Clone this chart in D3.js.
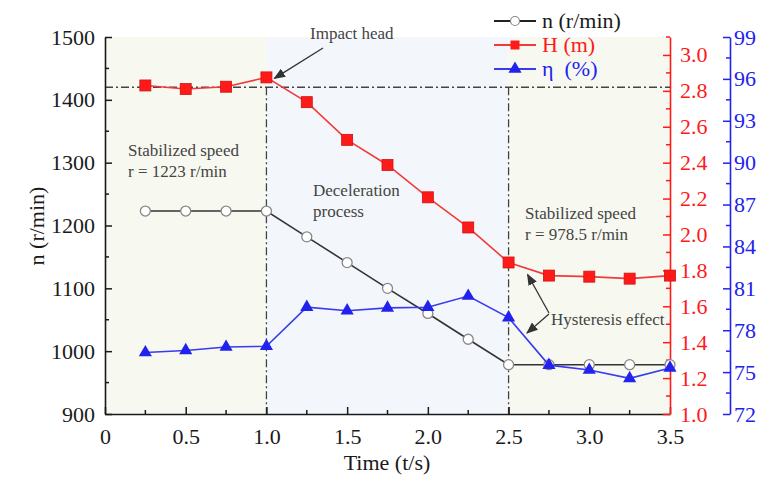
<!DOCTYPE html>
<html>
<head>
<meta charset="utf-8">
<script src="https://cdn.jsdelivr.net/npm/d3@7"></script>
<style>
  body { margin: 0; background: #fff; }
  .ann { fill: #444; font-size: 17px; }
  .ref { stroke: #444; stroke-width: 1.3; stroke-dasharray: 8,3,2,3; fill: none; }
</style>
</head>
<body>
<svg id="chart" width="765" height="477"></svg>
<script>
const times = [0.25, 0.5, 0.75, 1.0, 1.25, 1.5, 1.75, 2.0, 2.25, 2.5, 2.75, 3.0, 3.25, 3.5];
const speed = [1223, 1223, 1223, 1223, 1182, 1141, 1100, 1060, 1019, 978.5, 978.5, 978.5, 978.5, 978.5];
const head  = [2.83, 2.81, 2.823, 2.875, 2.737, 2.527, 2.387, 2.207, 2.039, 1.844, 1.771, 1.765, 1.754, 1.771];
const eff   = [76.4, 76.55, 76.8, 76.85, 79.65, 79.4, 79.6, 79.65, 80.45, 78.9, 75.5, 75.15, 74.55, 75.3];

const xTicks = [0, 0.5, 1.0, 1.5, 2.0, 2.5, 3.0, 3.5];
const nTicks = [900, 1000, 1100, 1200, 1300, 1400, 1500];
const hTicks = [1.0, 1.2, 1.4, 1.6, 1.8, 2.0, 2.2, 2.4, 2.6, 2.8, 3.0];
const eTicks = [72, 75, 78, 81, 84, 87, 90, 93, 96, 99];

const phases = [
  { from: 0, to: 1.0, fill: "#f7f9f1" },
  { from: 1.0, to: 2.5, fill: "#f3f7fc" },
  { from: 2.5, to: 3.5, fill: "#f7f9f1" }
];
const refSpeed = 1420;

const RED = "#ff1a1a", BLUE = "#2222ee", INK = "#1a1a1a";
const SERIF = '"Liberation Serif", "Times New Roman", serif';
const plotTop = 37, plotBot = 414;

const svg = d3.select("#chart");
const x  = d3.scaleLinear().domain([0, 3.5]).range([105, 670]);
const yN = d3.scaleLinear().domain([900, 1500]).range([plotBot, plotTop]);
const yH = d3.scaleLinear().domain([1.0, 3.1]).range([plotBot, plotTop]);
const yE = d3.scaleLinear().domain([72, 99]).range([plotBot, plotTop]);

// phase shading
svg.selectAll(".phase").data(phases).join("rect")
  .attr("x", d => x(d.from)).attr("width", d => x(d.to) - x(d.from))
  .attr("y", plotTop).attr("height", plotBot - plotTop)
  .attr("fill", d => d.fill);

// reference dash-dot lines
svg.append("line").attr("class", "ref")
  .attr("x1", x(0)).attr("x2", x(3.5))
  .attr("y1", yN(refSpeed)).attr("y2", yN(refSpeed));
[1.0, 2.5].forEach(t => {
  svg.append("line").attr("class", "ref")
    .attr("x1", x(t)).attr("x2", x(t))
    .attr("y1", yN(refSpeed)).attr("y2", plotBot);
});

function styleAxis(g, color) {
  g.attr("font-family", null);
  g.selectAll("path").attr("stroke", color).attr("stroke-width", 1.6);
  g.selectAll("line").attr("stroke", color).attr("stroke-width", 1.5);
  g.selectAll("text").attr("fill", color).style("font-size", "22px");
}
function minorTicks(g, scale, vals, orient, len) {
  vals.forEach(v => {
    const p = scale(v);
    if (orient === "x") g.append("line").attr("x1", p).attr("x2", p).attr("y1", 0).attr("y2", -len);
    else g.append("line").attr("y1", p).attr("y2", p).attr("x1", 0).attr("x2", orient * len);
  });
}

// bottom axis
const gx = svg.append("g").attr("transform", `translate(0,${plotBot})`)
  .call(d3.axisBottom(x).tickValues(xTicks).tickSizeInner(-7).tickSizeOuter(0).tickPadding(14)
    .tickFormat(d => d === 0 ? "0" : d3.format(".1f")(d)));
minorTicks(gx, x, d3.range(0.25, 3.5, 0.5), "x", 4);
styleAxis(gx, INK);

// left axis
const gl = svg.append("g").attr("transform", `translate(${x(0)},0)`)
  .call(d3.axisLeft(yN).tickValues(nTicks).tickSizeInner(-7).tickSizeOuter(0).tickPadding(10).tickFormat(d3.format("d")));
minorTicks(gl, yN, d3.range(950, 1500, 100), 1, 4);
styleAxis(gl, INK);

// right red axis
const gh = svg.append("g").attr("transform", `translate(${x(3.5)},0)`)
  .call(d3.axisRight(yH).tickValues(hTicks).tickSizeInner(-7).tickSizeOuter(0).tickPadding(10).tickFormat(d3.format(".1f")));
minorTicks(gh, yH, [1.1, 1.3, 1.5, 1.7, 1.9, 2.1, 2.3, 2.5, 2.7, 2.9, 3.1], -1, 4);
styleAxis(gh, RED);

// right blue axis
const ge = svg.append("g").attr("transform", "translate(730,0)")
  .call(d3.axisRight(yE).tickValues(eTicks).tickSizeInner(-7).tickSizeOuter(0).tickPadding(4).tickFormat(d3.format("d")));
minorTicks(ge, yE, d3.range(73.5, 99, 3), -1, 4);
styleAxis(ge, BLUE);

// axis titles
svg.append("text").attr("transform", "translate(44,226) rotate(-90)")
  .attr("text-anchor", "middle").attr("fill", INK).style("font-size", "22px").text("n (r/min)");
svg.append("text").attr("x", 387).attr("y", 470)
  .attr("text-anchor", "middle").attr("fill", INK).style("font-size", "22px").text("Time (t/s)");

// series
const nPts = times.map((t, i) => [x(t), yN(speed[i])]);
const hPts = times.map((t, i) => [x(t), yH(head[i])]);
const ePts = times.map((t, i) => [x(t), yE(eff[i])]);
const line = d3.line();

svg.append("path").attr("d", line(nPts)).attr("fill", "none").attr("stroke", "#333").attr("stroke-width", 1.6);
svg.selectAll(".nc").data(nPts).join("circle")
  .attr("cx", d => d[0]).attr("cy", d => d[1]).attr("r", 5)
  .attr("fill", "#fff").attr("stroke", "#888").attr("stroke-width", 1.3);

svg.append("path").attr("d", line(hPts)).attr("fill", "none").attr("stroke", "#f23a3a").attr("stroke-width", 1.6);
svg.selectAll(".hs").data(hPts).join("rect")
  .attr("x", d => d[0] - 5.5).attr("y", d => d[1] - 5.5).attr("width", 11).attr("height", 11)
  .attr("fill", RED).attr("stroke", "#d41010").attr("stroke-width", 0.8);

const tri = d3.symbol().type(d3.symbolTriangle).size(75);
svg.append("path").attr("d", line(ePts)).attr("fill", "none").attr("stroke", "#3a3af0").attr("stroke-width", 1.6);
svg.selectAll(".et").data(ePts).join("path")
  .attr("transform", d => `translate(${d[0]},${d[1]})`).attr("d", tri)
  .attr("fill", BLUE);

// annotations
const arrowHead = svg.append("defs").append("marker")
  .attr("id", "arr").attr("viewBox", "0 0 10 10").attr("refX", 9).attr("refY", 5)
  .attr("markerWidth", 9).attr("markerHeight", 9).attr("orient", "auto-start-reverse");
arrowHead.append("path").attr("d", "M0,1 L10,5 L0,9 Z").attr("fill", "#333");

function arrow(x1, y1, x2, y2) {
  svg.append("line").attr("x1", x1).attr("y1", y1).attr("x2", x2).attr("y2", y2)
    .attr("stroke", "#333").attr("stroke-width", 1.3).attr("marker-end", "url(#arr)");
}
arrow(323, 48, x(1.0) + 8, yH(head[3]) + 1);
arrow(549, 313, x(2.5) + 19, yH(head[9]) + 12);
arrow(549, 314, 527, 333);

const notes = [
  ["Impact head", 310, 39],
  ["Stabilized speed", 128, 156],
  ["r = 1223 r/min", 128, 177],
  ["Deceleration", 313, 196],
  ["process", 313, 217],
  ["Stabilized speed", 525, 219],
  ["r = 978.5 r/min", 525, 240],
  ["Hysteresis effect", 551, 325]
];
svg.selectAll(".ann").data(notes).join("text").attr("class", "ann")
  .attr("x", d => d[1]).attr("y", d => d[2]).text(d => d[0]);

// legend
const legend = [
  { label: "n (r/min)", color: "#222", text: INK, mark: "circle" },
  { label: "H (m)", color: "#f23a3a", text: RED, mark: "square" },
  { label: "η\u00a0 (%)", color: "#3a3af0", text: BLUE, mark: "tri" }
];
const lg = svg.selectAll(".lg").data(legend).join("g")
  .attr("transform", (d, i) => `translate(494,${21 + i * 24})`);
lg.append("line").attr("x1", 0).attr("x2", 42).attr("stroke", d => d.color).attr("stroke-width", 1.8);
lg.each(function(d) {
  const g = d3.select(this);
  if (d.mark === "circle") g.append("circle").attr("cx", 21).attr("r", 4.5).attr("fill", "#fff").attr("stroke", "#888").attr("stroke-width", 1.2);
  else if (d.mark === "square") g.append("rect").attr("x", 16.5).attr("y", -4.5).attr("width", 9).attr("height", 9).attr("fill", RED);
  else g.append("path").attr("transform", "translate(21,0)").attr("d", tri).attr("fill", BLUE);
});
lg.append("text").attr("x", 48).attr("y", 7).style("font-size", "22px")
  .attr("fill", d => d.text).text(d => d.label);

svg.selectAll("text").style("font-family", SERIF);
</script>
</body>
</html>
